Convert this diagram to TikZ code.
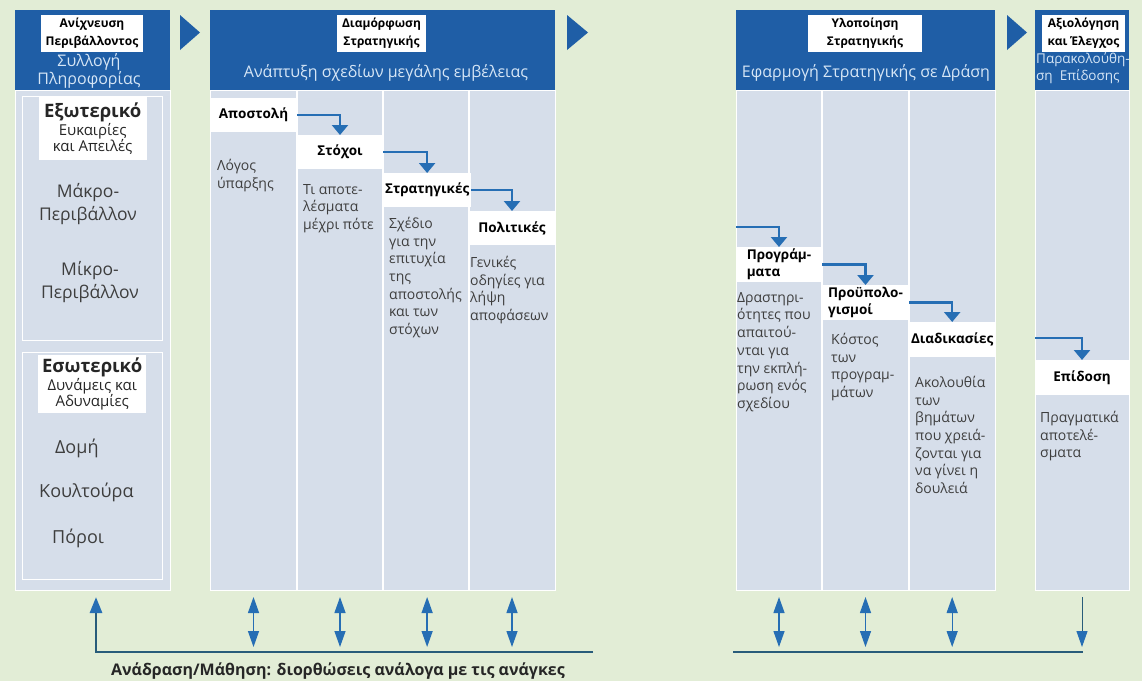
\documentclass[tikz,border=0pt]{standalone}
\usepackage{fontspec}
\setmainfont{Open Sans}
\usetikzlibrary{arrows.meta}

\definecolor{bggreen}{RGB}{226,237,214}
\definecolor{hdrblue}{RGB}{31,94,166}
\definecolor{bodyblue}{RGB}{214,222,234}
\definecolor{arrowblue}{RGB}{38,110,180}
\definecolor{fbdark}{RGB}{40,92,122}
\definecolor{hdrtextc}{RGB}{214,230,246}
\definecolor{desc}{RGB}{62,62,62}

\begin{document}
\begin{tikzpicture}[x=1pt,y=-1pt,
  hdrlabel/.style={fill=white,align=center,inner sep=0pt,font=\fontsize{12}{18}\selectfont\bfseries},
  hdrtext/.style={text=hdrtextc,align=center,inner sep=0pt,font=\fontsize{16}{17.5}\selectfont},
  envlabel/.style={anchor=north west,fill=white,align=center,inner sep=1pt,minimum width=108pt,text=black!85},
  envtext/.style={text=desc,align=center,inner sep=0pt,font=\fontsize{17.5}{23}\selectfont},
  steplabel/.style={anchor=north west,fill=white,inner sep=2pt,outer sep=0pt,minimum width=86pt,minimum height=34pt,font=\fontsize{13.5}{17}\selectfont\bfseries},
  desctext/.style={anchor=north west,text=desc,align=left,inner sep=0pt,font=\fontsize{14}{17.7}\selectfont},
  flowarrow/.style={draw=arrowblue,line width=2.4pt,-{Triangle[width=16pt,length=10pt]}},
  twoway/.style={draw=arrowblue,line width=1.3pt,{Triangle[width=11pt,length=16pt]}-{Triangle[width=11pt,length=16pt]}},
  fbline/.style={draw=fbdark,line width=2.8pt}]
  \useasboundingbox (0,0) rectangle (1142,681);
  \fill[bggreen] (0,0) rectangle (1142,681);

  % headers and bodies
  \fill[hdrblue] (15,10) rectangle (170,90);
  \fill[hdrblue] (210,10) rectangle (555,90);
  \fill[hdrblue] (736,10) rectangle (995,90);
  \fill[hdrblue] (1035,10) rectangle (1129,90);
  \draw[white,fill=bodyblue] (15,90) rectangle (170,590);
  \draw[white,fill=bodyblue] (210,90) rectangle (555,590);
  \draw[white,fill=bodyblue] (736,90) rectangle (995,590);
  \draw[white,fill=bodyblue] (1035,90) rectangle (1129,590);
  \fill[hdrblue] (180,15) -- (200,32.5) -- (180,50) -- cycle;
  \fill[hdrblue] (567,15) -- (588,32.5) -- (567,50) -- cycle;
  \fill[hdrblue] (1007,15) -- (1027,32.5) -- (1007,50) -- cycle;

  \draw[white,line width=1pt] (22,96) rectangle (162,340);
  \draw[white,line width=1pt] (22,352) rectangle (162,579);
  \foreach \x in {297,383,469,822,909}
    \draw[white,line width=1.2pt] (\x,90) -- (\x,590);

  \node[hdrlabel,minimum width=102pt,minimum height=37pt] (scan) at (92,33.5) {Ανίχνευση\\Περιβάλλοντος};
  \node[hdrtext] (scaninfo) at (89,71) {Συλλογή\\Πληροφορίας};
  \node[hdrlabel,minimum width=89pt,minimum height=37pt] (formulate) at (381.5,33.5) {Διαμόρφωση\\Στρατηγικής};
  \node[hdrtext] (formulateinfo) at (386,73) {Ανάπτυξη σχεδίων μεγάλης εμβέλειας};
  \node[hdrlabel,minimum width=114pt,minimum height=37pt] (implement) at (865,33.5) {Υλοποίηση\\Στρατηγικής};
  \node[hdrtext] (implementinfo) at (866,73) {Εφαρμογή Στρατηγικής σε Δράση};
  \node[hdrlabel,minimum width=83pt,minimum height=37pt] (evaluate) at (1083.5,33.5) {Αξιολόγηση\\και Έλεγχος};
  \node[hdrtext,anchor=north west,align=left,font=\fontsize{13.5}{17}\selectfont] (evaluateinfo) at (1036,52) {Παρακολούθη-\\ση\ \ Επίδοσης};

  % environment column
  \node[envlabel,minimum height=63pt] (external) at (38.5,97) {{\fontsize{18.5}{20}\selectfont\bfseries Εξωτερικό}\\{\fontsize{15}{19}\selectfont Ευκαιρίες}\\{\fontsize{15}{19}\selectfont και Απειλές}};
  \node[envtext] (macro) at (88,204) {Μάκρο-\\Περιβάλλον};
  \node[envtext] (micro) at (90,282) {Μίκρο-\\Περιβάλλον};
  \node[envlabel,minimum height=58pt] (internal) at (38,355) {{\fontsize{18.5}{19}\selectfont\bfseries Εσωτερικό}\\{\fontsize{15}{18.5}\selectfont Δυνάμεις και}\\{\fontsize{15}{18.5}\selectfont Αδυναμίες}};
  \node[envtext,anchor=west,font=\fontsize{18}{23}\selectfont] (structure) at (55,448) {Δομή};
  \node[envtext,anchor=west,font=\fontsize{18}{23}\selectfont] (culture) at (39,492) {Κουλτούρα};
  \node[envtext,anchor=west,font=\fontsize{18}{23}\selectfont] (resources) at (52,538) {Πόροι};

  % formulation steps
  \node[steplabel,minimum width=87pt] (mission) at (210,98) {Αποστολή};
  \node[steplabel] (goals) at (297,135) {Στόχοι};
  \node[steplabel] (strategies) at (383,173) {Στρατηγικές};
  \node[steplabel] (policies) at (469,211) {Πολιτικές};
  \draw[flowarrow] (mission.east) -| (goals.north);
  \draw[flowarrow] (goals.east) -| (strategies.north);
  \draw[flowarrow] (strategies.east) -| (policies.north);

  \node[desctext] (reason) at (217,159) {Λόγος\\ύπαρξης};
  \node[desctext] (results) at (303,184) {Τι αποτε-\\λέσματα\\μέχρι πότε};
  \node[desctext] (plan) at (389,217) {Σχέδιο\\για την\\επιτυχία\\της\\αποστολής\\και των\\στόχων};
  \node[desctext] (guides) at (470,256) {Γενικές\\οδηγίες για\\λήψη\\αποφάσεων};

  % implementation steps
  \node[steplabel,align=left,minimum height=35pt] (programs) at (736,247) {Προγράμ-\\ματα};
  \node[steplabel,align=left,minimum width=87pt,minimum height=35pt] (budgets) at (822,285) {Προϋπολο-\\γισμοί};
  \node[steplabel,minimum height=35pt] (procedures) at (909,322) {Διαδικασίες};
  \node[steplabel,minimum width=94pt,minimum height=35pt] (performance) at (1035,360) {Επίδοση};
  \coordinate (programsin) at (736,227);
  \coordinate (performancein) at (1035,338);
  \draw[flowarrow] (programsin) -| (programs.north);
  \draw[flowarrow] (programs.east) -| (budgets.north);
  \draw[flowarrow] (budgets.east) -| (procedures.north);
  \draw[flowarrow] (performancein) -| (performance.north);

  \node[desctext] (activities) at (737,292) {Δραστηρι-\\ότητες που\\απαιτού-\\νται για\\την εκπλή-\\ρωση ενός\\σχεδίου};
  \node[desctext] (cost) at (831,333) {Κόστος\\των\\προγραμ-\\μάτων};
  \node[desctext] (sequence) at (915,376) {Ακολουθία\\των\\βημάτων\\που χρειά-\\ζονται για\\να γίνει η\\δουλειά};
  \node[desctext] (actual) at (1040,411) {Πραγματικά\\αποτελέ-\\σματα};

  % feedback
  \coordinate (fbtop) at (0,597);
  \coordinate (fbbot) at (0,647);
  \coordinate (fbleft) at (96,652);
  \coordinate (fbright) at (593,652);
  \coordinate (fbleft2) at (733,652);
  \coordinate (fbright2) at (1083,652);
  \draw[fbline,-{Triangle[width=12pt,length=16pt,color=arrowblue]}] (fbright) -- (fbleft) -- (fbleft |- fbtop);
  \draw[fbline] (fbleft2) -- (fbright2);
  \foreach \n in {mission,goals,strategies,policies,programs,budgets,procedures}
    \draw[twoway] (\n.center |- fbtop) -- (\n.center |- fbbot);
  \draw[fbdark,line width=1pt,-{Triangle[width=11pt,length=16pt,color=arrowblue]}] (performance.center |- fbtop) -- (performance.center |- fbbot);

  \node[font=\fontsize{16}{18}\selectfont\bfseries,text=black!85] (feedback) at (338,671) {Ανάδραση/Μάθηση: διορθώσεις ανάλογα με τις ανάγκες};
\end{tikzpicture}
\end{document}
